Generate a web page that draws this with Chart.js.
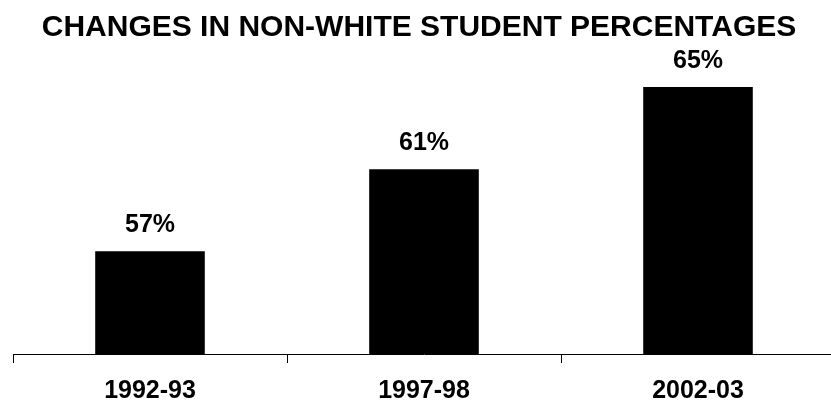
<!DOCTYPE html>
<html>
<head>
<meta charset="utf-8">
<script src="https://cdn.jsdelivr.net/npm/chart.js@4.4.1/dist/chart.umd.min.js"></script>
<style>
    html, body { margin: 0; padding: 0; background: #fff; overflow: hidden; }
    #wrap { width: 831px; height: 419px; overflow: hidden; }
</style>
</head>
<body>
<div id="wrap"><canvas id="pctChart" width="840" height="419"></canvas></div>
<script>
const years = ['1992-93', '1997-98', '2002-03'];
const nonWhitePct = [57, 61, 65];
const titleText = 'CHANGES IN NON-WHITE STUDENT PERCENTAGES';

const fontFamily = '"Liberation Sans", Arial, Helvetica, sans-serif';

// title is drawn by hand so it can sit centred on the visible page, not the wider canvas
const pageTitle = {
    id: 'pageTitle',
    afterDraw(chart) {
        const ctx = chart.ctx;
        ctx.save();
        ctx.font = 'bold 30px ' + fontFamily;
        ctx.fillStyle = '#000';
        ctx.textAlign = 'center';
        ctx.textBaseline = 'alphabetic';
        ctx.fillText(titleText, 419, 36);
        ctx.restore();
    }
};

// write the percentage above each bar
const valueLabels = {
    id: 'valueLabels',
    afterDatasetsDraw(chart) {
        const ctx = chart.ctx;
        const meta = chart.getDatasetMeta(0);
        ctx.save();
        ctx.font = 'bold 25px ' + fontFamily;
        ctx.fillStyle = '#000';
        ctx.textAlign = 'center';
        ctx.textBaseline = 'alphabetic';
        meta.data.forEach((bar, i) => {
            ctx.fillText(nonWhitePct[i] + '%', bar.x, bar.y - 19);
        });
        ctx.restore();
    }
};

new Chart(document.getElementById('pctChart'), {
    type: 'bar',
    data: {
        labels: years,
        datasets: [{
            label: 'Non-white students',
            data: nonWhitePct,
            backgroundColor: '#000',
            borderWidth: 0,
            barPercentage: 0.4,
            categoryPercentage: 1.0
        }]
    },
    options: {
        responsive: false,
        animation: false,
        devicePixelRatio: 1,
        layout: {
            padding: { left: 13, right: 5, top: 46, bottom: 0 }
        },
        plugins: {
            legend: { display: false },
            tooltip: { enabled: false },
            title: { display: false }
        },
        scales: {
            x: {
                offset: true,
                grid: {
                    display: true,
                    offset: true,
                    drawOnChartArea: false,
                    drawTicks: true,
                    tickLength: 9,
                    color: '#000'
                },
                border: { display: true, color: '#000', width: 1 },
                ticks: {
                    color: '#000',
                    padding: 13,
                    maxRotation: 0,
                    font: { family: fontFamily, size: 25, weight: 'bold', lineHeight: 1.2 }
                }
            },
            y: {
                display: false,
                min: 52,
                max: 67
            }
        }
    },
    plugins: [valueLabels, pageTitle]
});
</script>
</body>
</html>
